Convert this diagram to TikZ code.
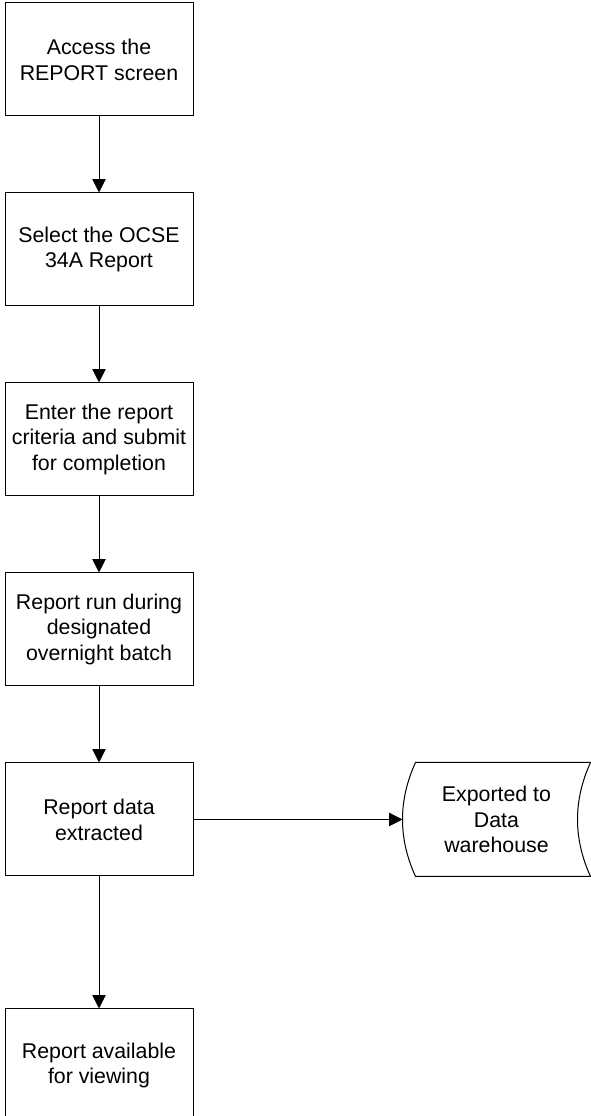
\documentclass[tikz,border=0pt]{standalone}
\usepackage{fontspec}
\setmainfont{Liberation Sans}
\usetikzlibrary{arrows.meta,positioning}

\begin{document}
\begin{tikzpicture}[
  font=\fontsize{16pt}{19.4pt}\selectfont,
  >={Triangle[length=10pt, width=10pt]},
  line width=0.75pt,
  stepbox/.style={draw, align=center, minimum width=141pt, minimum height=84.75pt, inner sep=0pt},
  store/.style={align=center, minimum width=140.25pt, minimum height=84.75pt, inner sep=0pt}
]
\useasboundingbox (0,0) rectangle (442.5pt,-837pt);

\node[stepbox] (access) at (74.25pt,-44.6pt) {Access the\\REPORT screen};
\node[stepbox, below=57pt of access] (select) {Select the OCSE\\34A Report};
\node[stepbox, below=57pt of select] (enter) {Enter the report\\criteria and submit\\for completion};
\node[stepbox, below=57pt of enter] (batch) {Report run during\\designated\\overnight batch};
\node[stepbox, below=57pt of batch] (extract) {Report data\\extracted};
\node[stepbox, below=99pt of extract] (view) {Report available\\for viewing};

\node[store, right=156.75pt of extract] (export) {Exported to\\Data\\warehouse};
\draw ([xshift=9.75pt]export.north west) -- (export.north east)
  .. controls ([xshift=-13pt, yshift=-28.5pt]export.north east) and ([xshift=-13pt, yshift=28.5pt]export.south east) .. (export.south east)
  -- ([xshift=9.75pt]export.south west)
  .. controls ([xshift=-3.25pt, yshift=28.5pt]export.south west) and ([xshift=-3.25pt, yshift=-28.5pt]export.north west) .. cycle;

\draw[->] (access) -- (select);
\draw[->] (select) -- (enter);
\draw[->] (enter) -- (batch);
\draw[->] (batch) -- (extract);
\draw[->] (extract) -- (view);
\draw[->] (extract.east) -- (export.west);

\end{tikzpicture}
\end{document}
